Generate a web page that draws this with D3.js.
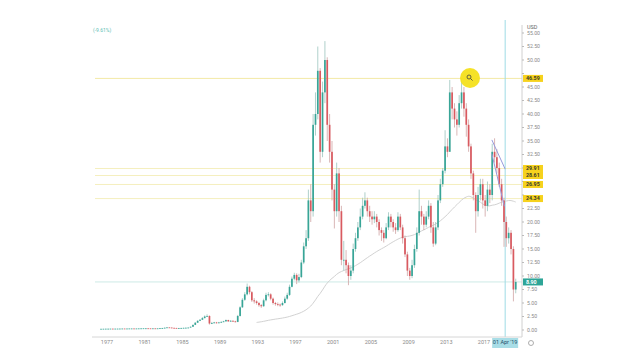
<!DOCTYPE html>
<html><head><meta charset="utf-8">
<script src="https://cdn.jsdelivr.net/npm/d3@7"></script>
<style>html,body{margin:0;padding:0;background:#fff;}svg{display:block;font-family:Roboto,"Liberation Sans",sans-serif;}</style>
</head><body><svg id="c" width="640" height="360"></svg>
<script>
// Quarterly candles, first quarter = 1976 Q2
const firstQuarter = {year: 1976, q: 1};
const closes = [
 0.22,0.23,0.24,
 0.24,0.25,0.24,0.25, 0.25,0.26,0.27,0.26, 0.27,0.28,0.28,0.27, 0.28,0.29,0.30,0.31,
 0.31,0.30,0.29,0.30, 0.29,0.30,0.33,0.36, 0.42,0.48,0.45,0.40, 0.38,0.36,0.37,0.38,
 0.40,0.42,0.45,0.60, 0.95,1.35,1.70,1.90, 2.20,2.50,2.60,1.20, 1.30,1.40,1.30,1.40,
 1.50,1.60,1.85,1.60, 1.70,1.60,1.50,2.60, 4.20,5.60,6.60,8.00, 7.00,5.50,5.30,5.00,
 4.60,4.40,5.50,6.50, 6.60,5.80,5.00,4.80, 4.70,4.60,5.00,5.80, 6.50,8.00,9.50,10.20,
 9.20,9.80,12.50,15.50, 17.0,24.0,22.0,38.0, 40.0,48.0,33.0,44.0, 50.0,38.0,33.0,26.0,
 22.0,29.0,22.0,13.0, 13.0,12.0,10.0,11.0, 15.0,17.0,19.0,21.0, 23.0,24.0,22.0,21.0,
 20.5,21.0,20.0,18.5, 18.0,17.0,19.0,21.0, 20.0,19.0,18.5,21.0, 19.0,17.0,14.0,11.0,
 10.0,12.0,15.0,18.0, 22.0,21.0,19.5,21.0, 23.0,19.0,16.0,19.0, 24.0,27.0,29.5,34.0,
 33.0,44.0,41.0,39.0, 38.0,42.0,44.0,41.0, 38.0,34.0,29.0,25.0, 22.0,25.0,27.0,24.0,
 23.0,26.0,25.0,33.0, 32.0,30.0,27.0,24.0, 20.0,17.0,18.0,15.0, 7.5,8.9
];
const highs = [
 0.23,0.24,0.25,
 0.26,0.26,0.26,0.26, 0.27,0.27,0.28,0.28, 0.28,0.29,0.29,0.29, 0.30,0.30,0.31,0.32,
 0.33,0.32,0.31,0.31, 0.31,0.32,0.35,0.40, 0.45,0.52,0.50,0.46, 0.42,0.39,0.39,0.40,
 0.42,0.45,0.48,0.65, 1.00,1.45,1.80,2.00, 2.40,2.70,2.90,2.70, 1.50,1.50,1.50,1.50,
 1.60,1.70,1.95,1.90, 1.85,1.80,1.70,2.80, 4.40,5.90,7.00,8.60, 8.20,7.20,5.90,5.50,
 5.20,4.80,5.80,6.90, 7.00,6.80,6.00,5.20, 5.10,4.90,5.30,6.20, 6.90,8.40,9.90,10.60,
 10.50,10.40,13.00,16.20, 18.5,26.0,27.0,40.0, 44.0,52.5,48.5,46.0, 53.5,50.5,40.0,35.0,
 27.0,31.0,30.0,23.0, 16.5,14.8,12.5,12.0, 16.0,18.0,20.0,22.5, 24.5,25.5,24.5,23.0,
 22.0,22.0,21.5,20.5, 19.0,18.5,19.8,21.8, 21.5,20.5,19.8,21.8, 21.5,19.5,17.5,14.5,
 11.5,13.0,15.8,19.0, 26.0,23.0,21.5,22.0, 24.0,23.5,20.0,20.0, 25.0,28.0,30.0,37.0,
 35.5,46.3,45.0,42.0, 40.5,43.5,46.6,45.0, 42.0,39.0,34.5,29.5, 25.5,26.5,28.0,28.0,
 25.0,27.5,27.0,34.5, 35.5,33.5,31.0,28.0, 24.5,21.0,19.0,18.5, 15.5,9.5
];
const lows = [
 0.21,0.22,0.23,
 0.23,0.24,0.23,0.23, 0.24,0.25,0.26,0.25, 0.26,0.27,0.27,0.26, 0.27,0.28,0.29,0.29,
 0.29,0.29,0.28,0.28, 0.27,0.28,0.29,0.32, 0.35,0.41,0.43,0.38, 0.35,0.34,0.35,0.36,
 0.37,0.39,0.41,0.44, 0.58,0.90,1.30,1.65, 1.85,2.15,2.40,1.00, 1.10,1.25,1.20,1.25,
 1.35,1.45,1.55,1.50, 1.55,1.50,1.40,1.45, 2.50,4.10,5.40,6.40, 6.60,5.20,4.90,4.70,
 4.30,4.10,4.30,5.30, 6.20,5.50,4.70,4.50, 4.40,4.30,4.50,4.90, 5.60,6.30,7.90,9.20,
 8.50,8.80,9.60,12.20, 15.0,16.5,20.0,21.0, 36.0,39.0,31.0,32.0, 42.0,35.0,31.0,24.0,
 18.8,21.0,20.0,12.0, 11.0,10.5,8.3,9.3, 10.5,14.5,16.5,18.5, 20.5,22.5,21.0,20.0,
 19.5,19.8,19.0,17.5, 16.5,16.2,16.8,18.5, 19.0,18.2,17.8,18.2, 18.5,16.0,13.5,10.0,
 9.3,9.6,11.5,14.5, 17.5,19.5,18.5,19.0, 20.5,18.0,15.4,15.7, 18.5,23.5,26.5,29.0,
 32.0,33.0,39.0,37.5, 36.0,37.5,41.0,39.5, 35.8,33.0,28.0,24.0, 18.0,21.0,24.0,22.5,
 21.0,22.0,23.5,24.0, 31.0,29.0,26.5,23.0, 15.4,15.4,16.0,14.0, 5.3,6.8
];
const yTicks = d3.range(0, 55.01, 2.5);
const xTickYears = [1977,1981,1985,1989,1993,1997,2001,2005,2009,2013,2017];
const levelLines = [46.59, 29.91, 28.61, 26.95, 24.34];
const lastPrice = 8.90;
const cursorDate = new Date(2019, 3, 1);
const cursorLabel = "01 Apr '19";
const maWindow = 67; // ~200 months in quarters
const changeText = "(-9.61%)";
const channelUpper = [[new Date(2017,10,1), 35.2],[new Date(2019,3,1), 29.8]];
const channelLower = [[new Date(2017,10,1), 32.6],[new Date(2019,2,1), 22.9]];

const svg = d3.select("#c");
const pL = 92, pR = 522, pT = 20, pB = 337;
const x = d3.scaleTime().domain([new Date(1977,0,1), new Date(2017,0,1)]).range([107, 484]);
const y = d3.scaleLinear().domain([0, 55]).range([330, 33]);

const data = closes.map((c, i) => {
  const qi = firstQuarter.q + i;
  const yr = firstQuarter.year + Math.floor(qi / 4);
  const q = qi % 4;
  const mid = new Date(yr, q * 3 + 1, 15);
  const open = i === 0 ? c : closes[i - 1];
  return {mid, open, close: c, high: highs[i], low: lows[i]};
});
const ma = [];
data.forEach((d, i) => {
  if (i >= maWindow - 1) {
    ma.push({date: d.mid, v: d3.mean(closes.slice(i - maWindow + 1, i + 1))});
  }
});

const g = svg.append("g");
g.selectAll(".lvl").data(levelLines).join("line")
  .attr("x1", pL + 3).attr("x2", pR).attr("y1", d => y(d)).attr("y2", d => y(d))
  .attr("stroke", (d,i) => i === 0 ? "#f3eaa6" : "#f5efbf").attr("stroke-width", 1);
g.append("line").attr("x1", pL + 3).attr("x2", pR).attr("y1", y(lastPrice)).attr("y2", y(lastPrice))
  .attr("stroke", "#cdeae6").attr("stroke-width", 1);
g.append("line").attr("x1", x(cursorDate)).attr("x2", x(cursorDate)).attr("y1", pT).attr("y2", pB)
  .attr("stroke", "#9fdbe5").attr("stroke-width", 1);

g.append("path").datum(ma)
  .attr("d", d3.line().x(d => x(d.date)).y(d => y(d.v)).curve(d3.curveBasis))
  .attr("fill", "none").attr("stroke", "#d2d2d2").attr("stroke-width", 1);

const bw = 1.7;
const cg = g.append("g");
cg.selectAll(".wick").data(data).join("line")
  .attr("x1", d => x(d.mid)).attr("x2", d => x(d.mid))
  .attr("y1", d => y(d.high)).attr("y2", d => y(d.low))
  .attr("stroke", d => d.close >= d.open ? "#9ac4be" : "#cfa3a3").attr("stroke-width", 0.8);
cg.selectAll(".body").data(data).join("rect")
  .attr("x", d => x(d.mid) - bw / 2).attr("width", bw)
  .attr("y", d => y(Math.max(d.open, d.close)))
  .attr("height", d => Math.max(0.8, Math.abs(y(d.open) - y(d.close))))
  .attr("fill", d => d.close >= d.open ? "#38a597" : "#d95a60");

[channelUpper, channelLower].forEach(pts => {
  g.append("line").attr("x1", x(pts[0][0])).attr("y1", y(pts[0][1]))
    .attr("x2", x(pts[1][0])).attr("y2", y(pts[1][1]))
    .attr("stroke", "#979bdc").attr("stroke-width", 1);
});

svg.append("line").attr("x1", pR).attr("x2", pR).attr("y1", 25).attr("y2", pB).attr("stroke", "#d0d0d0");
const labelVals = levelLines.concat([lastPrice]);
const shownTicks = yTicks.filter(t => labelVals.every(v => Math.abs(y(t) - y(v)) >= 5.6));
const ya = svg.append("g");
ya.selectAll("line").data(yTicks).join("line")
  .attr("x1", pR).attr("x2", pR + 2).attr("y1", d => y(d)).attr("y2", d => y(d)).attr("stroke", "#bbb");
ya.selectAll("text").data(shownTicks).join("text")
  .attr("x", pR + 5).attr("y", d => y(d)).attr("dy", "0.35em")
  .attr("font-size", 5.2).attr("fill", "#8a8a8a").text(d => d3.format(".2f")(d));
svg.append("text").attr("x", pR + 5).attr("y", 28.5).attr("font-size", 5.5).attr("fill", "#666").text("USD");

const lab = svg.append("g");
levelLines.forEach(v => {
  lab.append("rect").attr("x", pR + 1).attr("y", y(v) - 3.5).attr("width", 20).attr("height", 7).attr("fill", "#f6d21d");
  lab.append("text").attr("x", pR + 4).attr("y", y(v)).attr("dy", "0.35em").attr("font-size", 5.3)
    .attr("font-weight", "bold").attr("fill", "#3a3a2a").text(d3.format(".2f")(v));
});
lab.append("rect").attr("x", pR + 1).attr("y", y(lastPrice) - 3.5).attr("width", 20).attr("height", 7).attr("fill", "#2ea597");
lab.append("text").attr("x", pR + 4).attr("y", y(lastPrice)).attr("dy", "0.35em").attr("font-size", 5.3)
  .attr("font-weight", "bold").attr("fill", "#fff").text(d3.format(".2f")(lastPrice));

svg.append("line").attr("x1", pL).attr("x2", pR).attr("y1", pB).attr("y2", pB).attr("stroke", "#d6d6d6");
const xa = svg.append("g");
xa.selectAll("text").data(xTickYears).join("text")
  .attr("x", d => x(new Date(d,0,1))).attr("y", 344).attr("text-anchor", "middle")
  .attr("font-size", 5.5).attr("fill", "#8a8a8a").text(d => d);
xa.append("rect").attr("x", x(cursorDate) - 13).attr("y", 338).attr("width", 26).attr("height", 10).attr("fill", "#a8dde6");
xa.append("text").attr("x", x(cursorDate)).attr("y", 344).attr("text-anchor", "middle")
  .attr("font-size", 5.5).attr("fill", "#1d4f6a").text(cursorLabel);
svg.append("circle").attr("cx", 531).attr("cy", 343).attr("r", 2.5).attr("fill", "none").attr("stroke", "#999").attr("stroke-width", 0.8);

svg.append("text").attr("x", 93).attr("y", 32).attr("font-size", 5).attr("fill", "#5bbdb3").text(changeText);

svg.append("circle").attr("cx", 470).attr("cy", 78).attr("r", 10).attr("fill", "#f4e01c").attr("opacity", 0.95);
svg.append("circle").attr("cx", 469).attr("cy", 77).attr("r", 2).attr("fill", "none").attr("stroke", "#444").attr("stroke-width", 0.8);
svg.append("line").attr("x1", 470.5).attr("y1", 78.5).attr("x2", 472.5).attr("y2", 80.5).attr("stroke", "#444").attr("stroke-width", 0.9);
</script></body></html>
